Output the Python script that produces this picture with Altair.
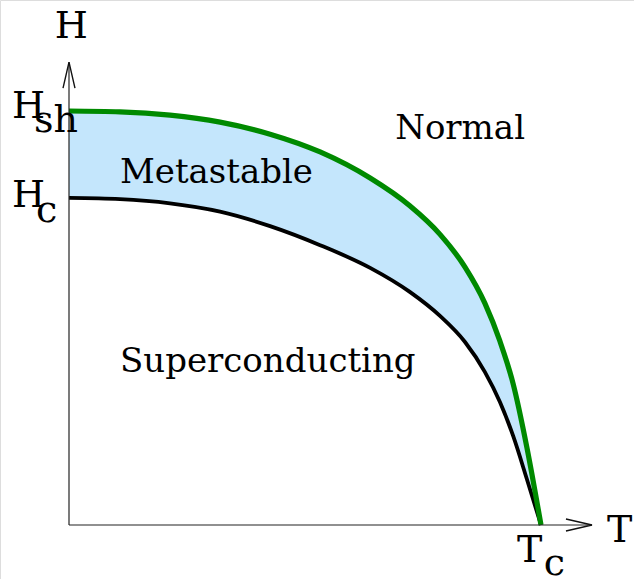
import altair as alt
import pandas as pd

# Reduced temperature T/Tc and reduced fields H/Hsh(0)
temperature = [0.0, 0.108, 0.214, 0.320, 0.426, 0.532, 0.638, 0.722, 0.786,
               0.839, 0.881, 0.913, 0.941, 0.970, 1.0]
h_superheat = [1.0, 0.998, 0.990, 0.973, 0.944, 0.901, 0.838, 0.771, 0.702,
               0.623, 0.536, 0.444, 0.341, 0.188, 0.0]
h_critical = [0.790, 0.787, 0.777, 0.757, 0.722, 0.676, 0.621, 0.563, 0.505,
              0.442, 0.370, 0.297, 0.215, 0.111, 0.0]

# Axis extents (arrow tips)
t_axis_end = 1.108
h_axis_end = 1.118

# Text labels in (T, H) coordinates, anchored at left baseline
label_text = ["H", "H", "sh", "H", "c", "T", "c", "T",
              "Normal", "Metastable", "Superconducting"]
label_t = [-0.030, -0.121, -0.074, -0.121, -0.070, 0.949, 1.006, 1.140,
           0.691, 0.108, 0.108]
label_h = [1.176, 0.983, 0.949, 0.768, 0.732, -0.089, -0.120, -0.041,
           0.932, 0.826, 0.370]
label_group = ["symbol"] * 8 + ["region"] * 3

curves = pd.DataFrame({"T": temperature, "Hsh": h_superheat, "Hc": h_critical})
labels = pd.DataFrame({"text": label_text, "T": label_t, "H": label_h,
                       "group": label_group})
axes = pd.DataFrame({"T": [0.0, 0.0], "T2": [0.0, t_axis_end],
                     "H": [0.0, 0.0], "H2": [h_axis_end, 0.0]})
tips = pd.DataFrame({"T": [0.0, t_axis_end], "H": [h_axis_end, 0.0],
                     "dir": ["up", "right"]})

W, H = 634, 579
SERIF = "DejaVu Serif"
xs = alt.Scale(domain=[-0.146186, 1.197034], nice=False, zero=False)
ys = alt.Scale(domain=[-0.130435, 1.268116], nice=False, zero=False)
X = lambda f: alt.X(f, type="quantitative", scale=xs, axis=None)
Y = lambda f: alt.Y(f, type="quantitative", scale=ys, axis=None)

band = alt.Chart(curves).mark_area(
    color="#c4e6fc", interpolate="monotone", opacity=1
).encode(x=X("T"), y=Y("Hsh"), y2="Hc")

hc_line = alt.Chart(curves).mark_line(
    color="#000000", strokeWidth=3.8, interpolate="monotone"
).encode(x=X("T"), y=Y("Hc"))

hsh_line = alt.Chart(curves).mark_line(
    color="#008a00", strokeWidth=5.2, interpolate="monotone"
).encode(x=X("T"), y=Y("Hsh"))

axis_lines = alt.Chart(axes).mark_rule(color="#222222", strokeWidth=1.2).encode(
    x=X("T"), x2="T2", y=Y("H"), y2="H2"
)

arrow_up = alt.Chart(tips).transform_filter(alt.datum.dir == "up").mark_point(
    shape="M -0.46 2 L 0 0 L 0.46 2", size=676, filled=False,
    color="#111111", strokeWidth=1.4, opacity=1
).encode(x=X("T"), y=Y("H"))

arrow_right = alt.Chart(tips).transform_filter(alt.datum.dir == "right").mark_point(
    shape="M -2 -0.46 L 0 0 L -2 0.46", size=676, filled=False,
    color="#111111", strokeWidth=1.4, opacity=1
).encode(x=X("T"), y=Y("H"))

symbol_text = alt.Chart(labels).transform_filter(alt.datum.group == "symbol").mark_text(
    align="left", baseline="alphabetic", font=SERIF,
    fontSize=38, color="#000000"
).encode(x=X("T"), y=Y("H"), text="text")

region_text = alt.Chart(labels).transform_filter(alt.datum.group == "region").mark_text(
    align="left", baseline="alphabetic", font=SERIF,
    fontSize=34, color="#000000"
).encode(x=X("T"), y=Y("H"), text="text")

chart = alt.layer(
    band, hc_line, hsh_line, axis_lines, arrow_up, arrow_right,
    symbol_text, region_text
).properties(
    width=W, height=H, padding=0, autosize=alt.AutoSizeParams(type="none")
).configure_view(stroke=None).configure(background="white")

chart.save("out.html", embed_options={"renderer": "svg", "actions": False})
